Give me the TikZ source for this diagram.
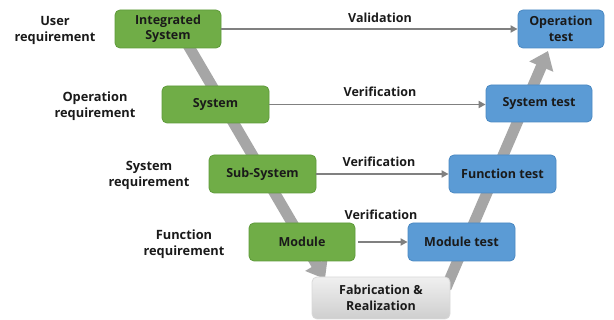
\documentclass[tikz,border=0pt]{standalone}
\usepackage{fontspec}
\setmainfont{Open Sans}
\usetikzlibrary{arrows.meta}
\definecolor{boxgreen}{HTML}{70AD47}
\definecolor{greenedge}{HTML}{5E9A3A}
\definecolor{boxblue}{HTML}{5B9BD5}
\definecolor{blueedge}{HTML}{4A88C2}
\definecolor{bandgray}{HTML}{A6A6A6}
\definecolor{linegray}{HTML}{808080}
\definecolor{txt}{HTML}{1A1A1A}
\tikzset{
  box/.style={rounded corners=5pt, align=center, inner sep=0pt, font=\bfseries\fontsize{12.5}{15.5}\selectfont, text=txt, line width=0.8pt},
  gbox/.style={box, fill=boxgreen, draw=greenedge},
  bbox/.style={box, fill=boxblue, draw=blueedge},
  fbox/.style={box, top color=gray!12, bottom color=gray!38, draw=gray!30},
  req/.style={align=center, font=\bfseries\fontsize{12.8}{16}\selectfont, text=txt},
  vlabel/.style={font=\bfseries\fontsize{12.5}{14}\selectfont, text=txt},
  band/.style={draw=bandgray, line width=11pt, -{Triangle[width=25pt,length=17pt]}},
  thinarrow/.style={draw=linegray, line width=1.8pt, -{Triangle[width=7pt,length=7pt]}}
}
\begin{document}
\begin{tikzpicture}[x=1pt,y=-1pt]
\useasboundingbox (0,0) rectangle (614,320);
% coordinates for the V bands
\coordinate (l1) at (185,40);
\coordinate (l2) at (325,279);
\coordinate (r1) at (446,288);
\coordinate (r2) at (548,51);
\draw[band] (l1) -- (l2);
\draw[band] (r1) -- (r2);
% left side boxes
\node[gbox, minimum width=106pt, minimum height=38pt] (IS) at (168,29) {Integrated\\System};
\node[gbox, minimum width=107pt, minimum height=37pt] (Sys) at (215.5,104.5) {System};
\node[gbox, minimum width=107pt, minimum height=38pt] (Sub) at (262.5,174) {Sub-System};
\node[gbox, minimum width=106pt, minimum height=38pt] (Mod) at (302,242) {Module};
\node[fbox, minimum width=138pt, minimum height=42pt] (Fab) at (381,298) {Fabrication \&\\Realization};
% right side boxes
\node[bbox, minimum width=107pt, minimum height=38pt] (ModT) at (461.5,242) {Module test};
\node[bbox, minimum width=107pt, minimum height=38pt] (FunT) at (502.5,174) {Function test};
\node[bbox, minimum width=106pt, minimum height=37pt] (SysT) at (539,103.5) {System test};
\node[bbox, minimum width=86pt, minimum height=38pt] (OpT) at (561,29) {Operation\\test};
% requirement labels
\node[req] (r1l) at (55,30) {User\\requirement};
\node[req] (r2l) at (95,106.5) {Operation\\requirement};
\node[req] (r3l) at (149,175) {System\\requirement};
\node[req] (r4l) at (184,244) {Function\\requirement};
% horizontal arrows
\draw[thinarrow] (IS.east) -- (OpT.west);
\draw[thinarrow] (Sys.east) -- (Sys.east -| SysT.west);
\draw[thinarrow] (Sub.east) -- (Sub.east -| FunT.west);
\draw[thinarrow] ([xshift=3pt]Mod.east) -- (Mod.east -| ModT.west);
% arrow labels
\node[vlabel] (v1) at (380,18) {Validation};
\node[vlabel] (v2) at (380,92) {Verification};
\node[vlabel] (v3) at (379,162) {Verification};
\node[vlabel] (v4) at (381,215) {Verification};
\end{tikzpicture}
\end{document}
